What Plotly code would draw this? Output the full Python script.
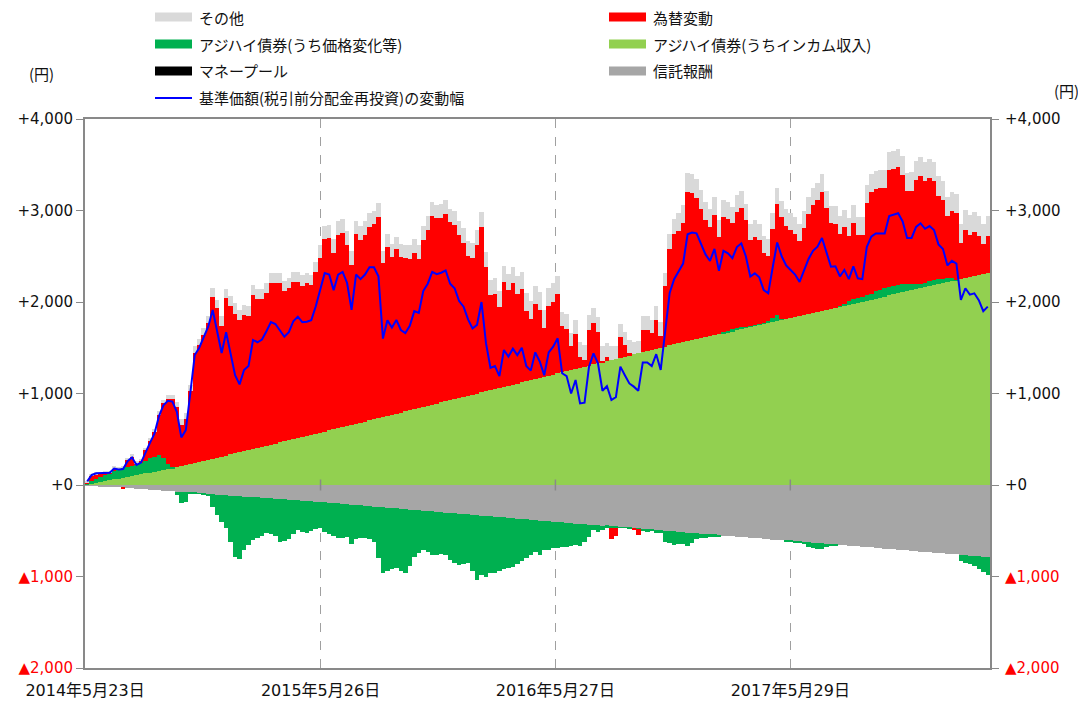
import pandas as pd
import plotly.graph_objects as go

# ---------------- data (weekly readings, yen) ----------------
start_date = "2014-05-23"
n_periods = 202

income = [5, 14, 24, 33, 42, 52, 61, 71, 80, 89,
          99, 108, 117, 127, 136, 146, 155, 164, 174, 183,
          193, 203, 215, 227, 239, 251, 263, 275, 286, 298,
          310, 322, 334, 346, 358, 370, 382, 394, 406, 418,
          429, 441, 453, 465, 477, 489, 501, 513, 525, 536,
          548, 560, 572, 584, 596, 609, 621, 633, 645, 658,
          670, 682, 694, 706, 718, 731, 743, 755, 767, 779,
          792, 804, 816, 828, 841, 853, 865, 877, 889, 902,
          914, 926, 938, 951, 963, 975, 987, 999, 1012, 1024,
          1036, 1048, 1061, 1073, 1085, 1097, 1109, 1122, 1134, 1146,
          1158, 1170, 1183, 1195, 1207, 1219, 1232, 1244, 1256, 1268,
          1280, 1293, 1305, 1317, 1329, 1342, 1354, 1366, 1378, 1390,
          1402, 1415, 1427, 1439, 1451, 1464, 1476, 1488, 1500, 1512,
          1525, 1537, 1549, 1561, 1572, 1583, 1594, 1605, 1617, 1628,
          1639, 1650, 1661, 1672, 1683, 1694, 1705, 1716, 1727, 1739,
          1750, 1761, 1772, 1783, 1794, 1805, 1816, 1827, 1838, 1849,
          1861, 1872, 1883, 1894, 1905, 1916, 1927, 1938, 1949, 1960,
          1972, 1983, 1994, 2005, 2016, 2027, 2038, 2049, 2060, 2072,
          2083, 2094, 2105, 2116, 2127, 2138, 2149, 2160, 2171, 2183,
          2194, 2205, 2216, 2227, 2238, 2249, 2260, 2271, 2282, 2294,
          2305, 2316]

trust_fee = [-2, -5, -9, -12, -16, -19, -23, -27, -30, -34,
             -37, -41, -44, -48, -51, -55, -58, -62, -65, -69,
             -72, -76, -80, -83, -87, -90, -94, -97, -101, -104,
             -108, -111, -115, -118, -122, -126, -129, -133, -136, -140,
             -143, -147, -150, -154, -157, -161, -164, -168, -171, -175,
             -179, -182, -186, -190, -194, -198, -202, -207, -211, -215,
             -219, -223, -227, -231, -235, -239, -244, -248, -252, -256,
             -260, -264, -268, -272, -277, -281, -285, -289, -293, -297,
             -301, -305, -309, -314, -318, -322, -326, -330, -334, -338,
             -342, -346, -350, -355, -359, -363, -367, -371, -375, -379,
             -383, -388, -392, -396, -400, -405, -409, -413, -417, -421,
             -425, -428, -432, -436, -440, -444, -448, -452, -456, -460,
             -464, -468, -472, -476, -480, -484, -488, -492, -496, -500,
             -504, -508, -512, -516, -520, -524, -528, -532, -536, -540,
             -544, -548, -552, -556, -560, -564, -568, -572, -576, -580,
             -584, -588, -592, -596, -600, -604, -607, -611, -615, -619,
             -623, -627, -631, -635, -639, -643, -647, -651, -655, -659,
             -663, -667, -671, -675, -679, -683, -687, -691, -695, -699,
             -703, -707, -711, -715, -719, -723, -727, -731, -735, -739,
             -743, -747, -751, -755, -759, -763, -767, -771, -775, -779,
             -783, -787]

bond_price = [15, 31, 46, 57, 63, 73, 89, 94, 105, 111,
              111, 111, 133, 138, 155, 164, 173, 136, 56, 17,
              -40, -124, -102, -8, -10, -5, -5, -23, -136, -226,
              -292, -363, -505, -666, -687, -585, -527, -468, -444, -415,
              -386, -393, -410, -466, -453, -429, -376, -324, -339, -354,
              -321, -303, -288, -320, -346, -357, -378, -368, -354, -425,
              -371, -360, -356, -364, -385, -561, -718, -692, -663, -655,
              -680, -696, -612, -512, -463, -430, -450, -471, -467, -453,
              -469, -515, -541, -561, -542, -534, -614, -709, -646, -662,
              -620, -616, -585, -565, -546, -532, -493, -459, -425, -381,
              -346, -372, -323, -309, -292, -280, -265, -261, -248, -235,
              -245, -200, -133, -56, -70, -50, -20, -15, -10, -5,
              -5, -5, -5, -5, -25, -25, -20, -30, -30, -120,
              -134, -148, -133, -129, -147, -114, -67, -51, -40, -25,
              -21, -10, 15, 15, 20, 20, 20, 15, 10, 10,
              10, 15, 20, 40, 60, 10, -10, -15, -15, -10,
              -20, -50, -60, -60, -55, -40, -15, -5, 5, 15,
              35, 45, 55, 55, 60, 60, 80, 85, 90, 90,
              95, 95, 90, 85, 70, 55, 50, 50, 60, 60,
              55, 50, 45, 30, 5, -70, -85, -95, -110, -140,
              -170, -200]

fx = [7, 55, 47, 32, 31, 9, 28, 7, -5, 69,
      97, 11, 9, 113, 185, 270, 440, 592, 715, 740,
      659, 457, 507, 804, 1209, 1274, 1381, 1500, 1774, 1636,
      1433, 1722, 1626, 1528, 1441, 1488, 1464, 1682, 1624, 1617,
      1670, 1769, 1757, 1739, 1643, 1661, 1719, 1709, 1655, 1668,
      1642, 1765, 1912, 2103, 2099, 1931, 2114, 2125, 1978, 1745,
      2070, 2001, 2039, 2119, 2132, 2199, 1679, 1845, 1728, 1796,
      1702, 1677, 1659, 1711, 1629, 1828, 1920, 2063, 2026, 2018,
      2051, 1944, 1907, 1779, 1686, 1531, 1498, 1625, 1803, 1361,
      1036, 1044, 889, 1148, 1043, 1108, 981, 1018, 766, 664,
      821, 740, 532, 760, 797, 869, 503, 460, 259, 386,
      122, 75, 394, 454, 341, 12, 44, -120, -92, 229,
      127, 28, -15, -68, 244, 235, 182, 314, 133, 658,
      1053, 1209, 1226, 1304, 1625, 1605, 1541, 1409, 1279, 1187,
      1316, 1058, 1251, 1216, 1157, 1270, 1304, 1161, 936, 964,
      914, 763, 715, 973, 1216, 1109, 1016, 964, 907, 815,
      947, 1090, 1178, 1216, 1299, 1107, 931, 918, 791, 844,
      711, 834, 686, 670, 1008, 1115, 1119, 1107, 1095, 1277,
      1276, 1288, 1196, 1014, 1017, 1145, 1183, 1116, 1129, 1078,
      914, 862, 680, 738, 726, 396, 532, 465, 483, 430,
      333, 406]

other = [15, 15, 20, 20, 20, 20, 25, 25, 25, 25,
         30, 30, 30, 30, 35, 35, 40, 40, 40, 40,
         60, 60, 60, 60, 70, 70, 75, 75, 90, 90,
         100, 100, 110, 110, 110, 110, 110, 110, 110, 110,
         110, 110, 110, 110, 110, 110, 110, 110, 110, 110,
         110, 110, 140, 140, 145, 145, 145, 145, 150, 150,
         150, 150, 150, 150, 150, 150, 140, 140, 140, 140,
         140, 140, 145, 145, 150, 150, 150, 150, 150, 150,
         150, 150, 155, 155, 160, 160, 165, 165, 165, 165,
         170, 170, 175, 175, 180, 180, 190, 190, 200, 200,
         200, 200, 200, 200, 200, 200, 160, 160, 150, 150,
         160, 160, 160, 160, 170, 170, 150, 150, 140, 140,
         140, 140, 140, 140, 150, 150, 150, 150, 150, 150,
         160, 160, 200, 200, 210, 210, 210, 210, 200, 200,
         190, 190, 185, 185, 180, 180, 180, 180, 180, 180,
         180, 180, 180, 180, 180, 180, 185, 185, 185, 185,
         185, 185, 190, 190, 190, 190, 190, 190, 190, 190,
         195, 195, 195, 195, 195, 195, 200, 200, 200, 200,
         200, 200, 200, 200, 205, 205, 205, 205, 205, 205,
         210, 210, 210, 210, 210, 210, 210, 210, 215, 215,
         215, 215]

money_pool = [0] * n_periods

nav_change = [40, 110, 128, 130, 140, 135, 180, 170, 175, 260,
              300, 219, 245, 360, 460, 560, 750, 870, 920, 911,
              800, 520, 600, 1000, 1421, 1500, 1620, 1730, 1913, 1694,
              1443, 1670, 1450, 1200, 1100, 1257, 1300, 1585, 1560, 1590,
              1680, 1780, 1760, 1694, 1620, 1670, 1790, 1840, 1780, 1785,
              1800, 1950, 2150, 2317, 2300, 2130, 2300, 2328, 2208, 1913,
              2300, 2250, 2300, 2380, 2380, 2280, 1600, 1800, 1720, 1804,
              1694, 1661, 1740, 1900, 1880, 2120, 2200, 2330, 2305, 2320,
              2345, 2200, 2150, 2010, 1949, 1810, 1710, 1750, 2000, 1550,
              1280, 1300, 1190, 1476, 1403, 1490, 1420, 1500, 1300, 1250,
              1450, 1350, 1200, 1450, 1512, 1603, 1221, 1190, 1000, 1148,
              892, 900, 1294, 1439, 1330, 1030, 1080, 929, 960, 1294,
              1200, 1110, 1075, 1030, 1340, 1340, 1300, 1430, 1257, 1700,
              2100, 2250, 2330, 2420, 2740, 2760, 2750, 2641, 2520, 2450,
              2580, 2340, 2560, 2532, 2480, 2600, 2641, 2500, 2277, 2313,
              2270, 2131, 2095, 2380, 2650, 2500, 2400, 2350, 2300, 2220,
              2350, 2470, 2560, 2605, 2700, 2530, 2386, 2390, 2280, 2350,
              2250, 2390, 2259, 2250, 2600, 2714, 2750, 2750, 2750, 2940,
              2951, 2970, 2880, 2700, 2700, 2820, 2860, 2800, 2830, 2787,
              2630, 2580, 2400, 2450, 2420, 2022, 2150, 2080, 2095, 2020,
              1900, 1950]

x_tick_dates = ["2014-05-23", "2015-05-26", "2016-05-27", "2017-05-29"]
x_tick_text = ["2014年5月23日", "2015年5月26日", "2016年5月27日", "2017年5月29日"]
y_tick_vals = [4000, 3000, 2000, 1000, 0, -1000, -2000]
y_tick_text = ["+4,000", "+3,000", "+2,000", "+1,000", "+0",
               "<span style='color:#FF0000'>▲1,000</span>",
               "<span style='color:#FF0000'>▲2,000</span>"]

names = {
    "other": "その他",
    "fx": "為替変動",
    "bond": "アジハイ債券(うち価格変化等)",
    "income": "アジハイ債券(うちインカム収入)",
    "mp": "マネープール",
    "fee": "信託報酬",
    "nav": "基準価額(税引前分配金再投資)の変動幅",
}
colors = {
    "other": "#D9D9D9", "fx": "#FF0000", "bond": "#00B050", "income": "#92D050",
    "mp": "#000000", "fee": "#A6A6A6", "nav": "#0000FF",
}

# ---------------- figure ----------------
period = pd.Timedelta(days=7)
dates = pd.date_range(start_date, periods=n_periods, freq="7D")
centers = dates + period / 2
end_date = dates[-1] + period
bar_w = period.total_seconds() * 1000

fig = go.Figure()
for key, vals in [("income", income), ("fee", trust_fee), ("bond", bond_price),
                  ("mp", money_pool), ("fx", fx), ("other", other)]:
    fig.add_trace(go.Bar(x=centers, y=vals, name=names[key], width=bar_w,
                         marker=dict(color=colors[key], line=dict(width=0)),
                         showlegend=False))
fig.add_trace(go.Scatter(x=centers, y=nav_change, name=names["nav"], mode="lines",
                         line=dict(color=colors["nav"], width=2), showlegend=False,
                         yaxis="y2"))

FONT = "DejaVu Sans, Noto Sans CJK JP, sans-serif"
JFONT = "Noto Sans CJK JP, sans-serif"
# the page body adds an 8px margin, so the figure is sized 8px smaller
OFF = 8
W, H = 1086 - OFF, 701 - OFF
L, R, T, B = 85 - OFF, 96, 119 - OFF, 33
pw, ph = W - L - R, H - T - B


def px(xs):
    return (xs - OFF - L) / pw


def py(ys):
    return (H - B - (ys - OFF)) / ph


yaxis_common = dict(range=[-2000, 4000], tickvals=y_tick_vals, ticktext=y_tick_text,
                    showgrid=False, ticks="outside", ticklen=7, tickcolor="#898989",
                    showline=True, linecolor="#898989", linewidth=2, automargin=False,
                    tickfont=dict(family=FONT, size=15, color="#111111"))

fig.update_layout(
    width=W, height=H,
    margin=dict(l=L, r=R, t=T, b=B, autoexpand=False),
    paper_bgcolor="white", plot_bgcolor="white",
    barmode="relative", bargap=0,
    showlegend=False,
    xaxis=dict(type="date", range=[dates[0], end_date], tickvals=x_tick_dates,
               ticktext=x_tick_text, showgrid=True, gridcolor="#A0A0A0", griddash="dash",
               gridwidth=1, showline=True, linecolor="#898989", linewidth=2, mirror=True,
               ticks="", ticklabelstandoff=7, automargin=False,
               tickfont=dict(family=FONT, size=16, color="#111111")),
    yaxis=dict(**yaxis_common, zeroline=True, zerolinecolor="#898989", zerolinewidth=2),
    yaxis2=dict(**yaxis_common, overlaying="y", side="right", zeroline=False,
                ticklabelstandoff=3),
)

# small cross ticks on the zero line at the date gridlines
for d in x_tick_dates[1:]:
    fig.add_shape(type="line", xref="x", yref="y", x0=d, x1=d, y0=-60, y1=60,
                  line=dict(color="#898989", width=1.5), layer="above")

# unit labels
fig.add_annotation(x=px(41), y=py(73), xref="paper", yref="paper", text="(円)", showarrow=False,
                   xanchor="center", yanchor="middle",
                   font=dict(family=JFONT, size=15, color="#111111"))
fig.add_annotation(x=px(1066), y=py(90), xref="paper", yref="paper", text="(円)", showarrow=False,
                   xanchor="center", yanchor="middle",
                   font=dict(family=JFONT, size=15, color="#111111"))

# legend (two columns)
legend_items = [
    ("other", 155, 17), ("fx", 609, 17),
    ("bond", 155, 44), ("income", 609, 44),
    ("mp", 155, 71), ("fee", 609, 71),
    ("nav", 155, 98),
]
for key, lx, ly in legend_items:
    if key == "nav":
        fig.add_shape(type="line", xref="paper", yref="paper", x0=px(lx), x1=px(lx + 37),
                      y0=py(ly), y1=py(ly), line=dict(color=colors[key], width=2))
    else:
        fig.add_shape(type="rect", xref="paper", yref="paper", x0=px(lx), x1=px(lx + 37),
                      y0=py(ly + 4.5), y1=py(ly - 4.5), line=dict(width=0),
                      fillcolor=colors[key])
    fig.add_annotation(x=px(lx + 42), y=py(ly), xref="paper", yref="paper", text=names[key],
                       showarrow=False, xanchor="left", yanchor="middle",
                       font=dict(family=JFONT, size=15, color="#111111"))

fig.write_html("out.html")
